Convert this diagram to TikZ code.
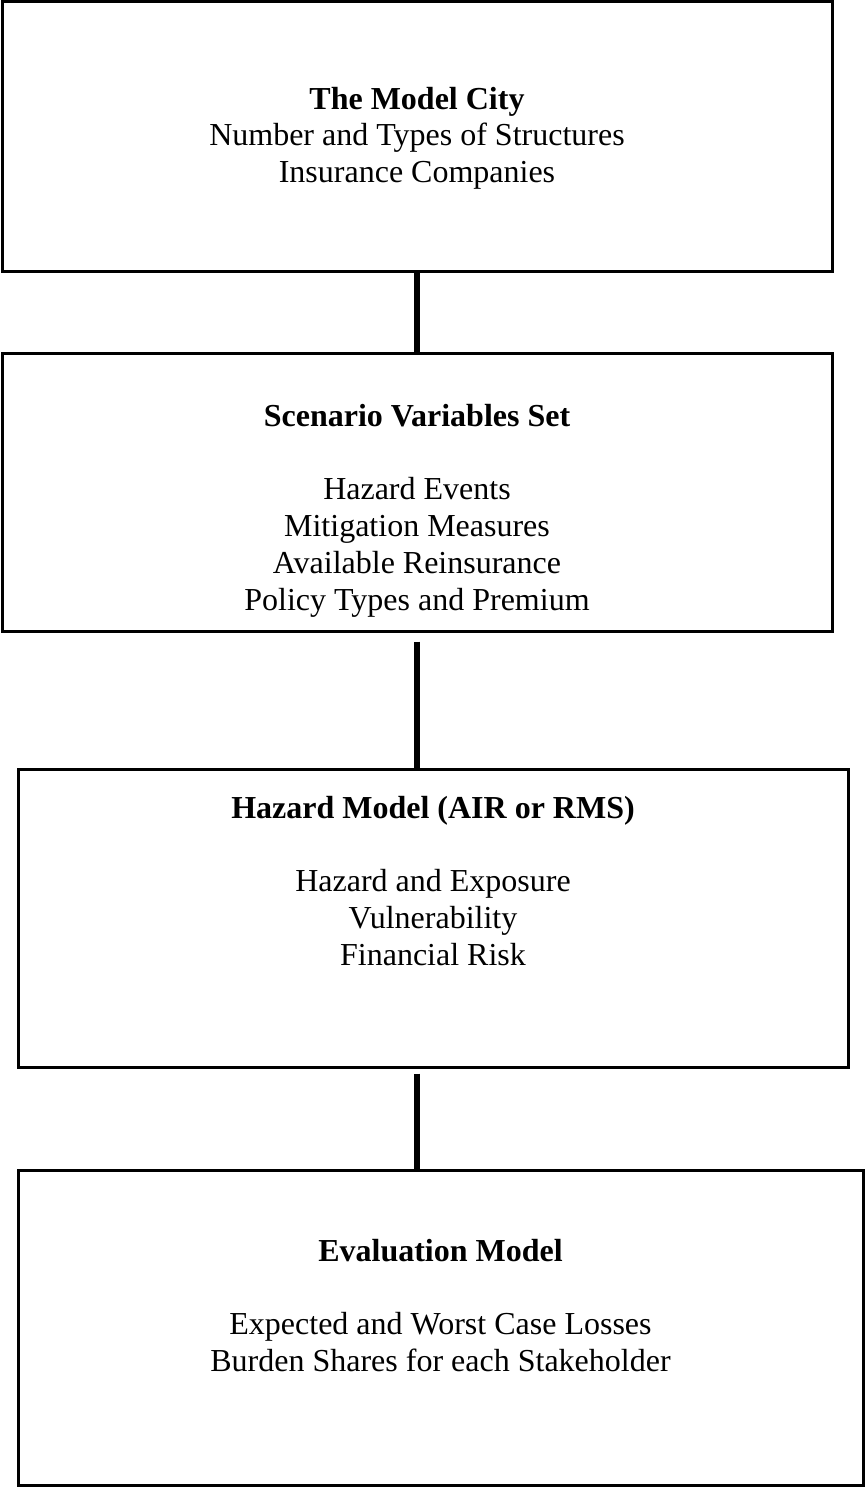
\documentclass[tikz,border=0pt]{standalone}
\usepackage{fontspec}
\setmainfont{Liberation Serif}
\usetikzlibrary{positioning}

\begin{document}
\begin{tikzpicture}[x=0.5pt, y=-0.5pt,
    box/.style={rectangle, draw, line width=1.5pt, inner sep=0pt},
    txt/.style={align=center, inner sep=0pt, font=\fontsize{16}{18.4}\selectfont},
    link/.style={line width=3pt}]
    \useasboundingbox (0,0) rectangle (865,1487);
    % the four boxes
    \node[box, minimum width=415pt, minimum height=134.5pt] (city) at (417,136.5) {};
    \node[box, minimum width=415pt, minimum height=139pt] (scenario) at (417,492) {};
    \node[box, minimum width=415pt, minimum height=149pt] (hazard) at (433,918) {};
    \node[box, minimum width=422.5pt, minimum height=157.5pt] (eval) at (440.5,1327.5) {};
    % their texts
    \node[txt, below=43pt of city.north] (citytext) {\textbf{The Model City}\\Number and Types of Structures\\Insurance Companies};
    \node[txt, below=26pt of scenario.north] (scenariotext) {\textbf{Scenario Variables Set}\\[18.4pt]Hazard Events\\Mitigation Measures\\Available Reinsurance\\Policy Types and Premium};
    \node[txt, below=14pt of hazard.north] (hazardtext) {\textbf{Hazard Model (AIR or RMS)}\\[18.4pt]Hazard and Exposure\\Vulnerability\\Financial Risk};
    \node[txt, below=35pt of eval.north] (evaltext) {\textbf{Evaluation Model}\\[18.4pt]Expected and Worst Case Losses\\Burden Shares for each Stakeholder};
    % links
    \draw[link] (city) -- (scenario);
    \draw[link, shorten <=4.5pt] (scenario) -- (scenario.south |- hazard.north);
    \draw[link, shorten <=2.5pt] (scenario.south |- hazard.south) -- (scenario.south |- eval.north);
\end{tikzpicture}
\end{document}
